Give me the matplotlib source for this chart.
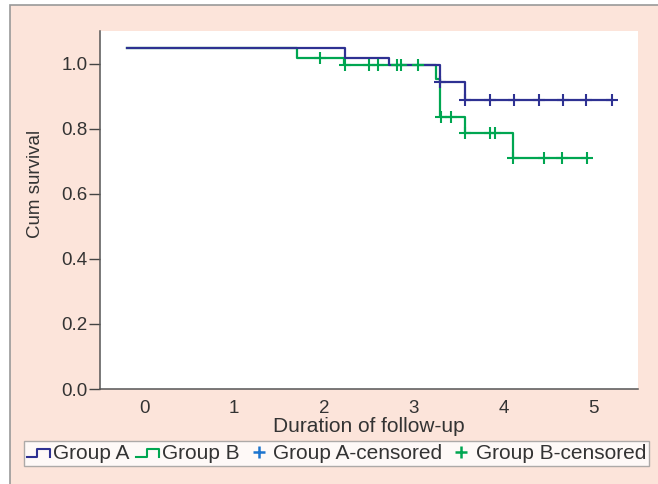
import numpy as np
import matplotlib
matplotlib.use('Agg')
import matplotlib.pyplot as plt
from matplotlib.lines import Line2D
from matplotlib.patches import Rectangle
from matplotlib.legend_handler import HandlerBase

plt.rcParams['font.family'] = ['Liberation Sans', 'DejaVu Sans']

# Kaplan-Meier steps: time at which each level starts, and the level
a_times = [-0.19, 2.23, 2.72, 3.29, 3.57]
a_surv = [1.047, 1.017, 0.996, 0.943, 0.887]
a_end = 5.20
a_cens = [3.29, 3.57, 3.84, 4.11, 4.39, 4.66, 4.91, 5.20]

b_times = [-0.19, 1.70, 2.22, 3.25, 3.29, 3.57, 4.10]
b_surv = [1.047, 1.018, 0.996, 0.953, 0.835, 0.787, 0.711]
b_end = 4.92
b_cens = [1.96, 2.23, 2.50, 2.60, 2.81, 2.86, 3.04, 3.30, 3.41,
          3.57, 3.84, 3.90, 4.10, 4.45, 4.65, 4.92]

xticks = [0, 1, 2, 3, 4, 5]
yticks = [0.0, 0.2, 0.4, 0.6, 0.8, 1.0]
legend_labels = ['Group A', 'Group B', 'Group A-censored', 'Group B-censored']

blue = '#2e3192'
green = '#00a651'
light_blue = '#1c75cf'
peach = '#fce4da'
txt = '#333333'


def level_at(times, surv, t):
    i = np.searchsorted(times, t, side='right') - 1
    return np.array(surv)[i]


class StepHandler(HandlerBase):
    def create_artists(self, legend, orig_handle, xdescent, ydescent,
                       width, height, fontsize, trans):
        xs = np.array([0.0, 0.45, 0.45, 1.0, 1.0]) * width - xdescent
        ys = np.array([0.15, 0.15, 0.7, 0.7, 0.15]) * height - ydescent
        ln = Line2D(xs, ys, color=orig_handle.get_color(), lw=1.5,
                    transform=trans)
        return [ln]


fig = plt.figure(figsize=(6.58, 4.84), dpi=100)
fig.patch.set_facecolor('white')
fig.patches.append(Rectangle((10 / 658, -0.1), 1.2, 1.1 - 5 / 484,
                             transform=fig.transFigure, facecolor=peach,
                             edgecolor='#999999', lw=1.2, zorder=-10))

ax = fig.add_axes([100 / 658, 1 - 389 / 484, 538 / 658, 358 / 484])
ax.set_facecolor('white')

ax.step(a_times + [a_end], a_surv + [a_surv[-1]], where='post',
        color=blue, lw=1.6, zorder=3)
ax.step(b_times + [b_end], b_surv + [b_surv[-1]], where='post',
        color=green, lw=1.6, zorder=2)
ax.plot(a_cens, level_at(a_times, a_surv, a_cens), ls='none', marker='+',
        ms=8, mew=1.5, color=blue, zorder=4)
ax.plot(b_cens, level_at(b_times, b_surv, b_cens), ls='none', marker='+',
        ms=8, mew=1.5, color=green, zorder=4)

ax.set_xlim(-0.49, 5.49)
ax.set_ylim(0, 1.1)
ax.set_xticks(xticks)
ax.set_yticks(yticks)
ax.set_yticklabels(['%.1f' % v for v in yticks])
ax.tick_params(axis='x', length=0, pad=8, labelsize=13.5, colors=txt)
ax.tick_params(axis='y', length=8, width=1, pad=1, labelsize=13.5,
               colors=txt, color='#444444')
for s in ['top', 'right']:
    ax.spines[s].set_visible(False)
for s in ['left', 'bottom']:
    ax.spines[s].set_color('#555555')
    ax.spines[s].set_linewidth(1.1)

ax.set_xlabel('Duration of follow-up', fontsize=15, color=txt, labelpad=0)
fig.text(36 / 658, 1 - 184 / 484, 'Cum survival', rotation=90, ha='center',
         va='center', fontsize=13.5, color=txt)

handles = [Line2D([], [], color=blue), Line2D([], [], color=green),
           Line2D([], [], ls='none', marker='+', ms=9, mew=1.8, color=light_blue),
           Line2D([], [], ls='none', marker='+', ms=9, mew=1.8, color=green)]
leg = fig.legend(handles, legend_labels, loc='center',
                 bbox_to_anchor=(336.5 / 658, 1 - 453.5 / 484), ncol=4,
                 fontsize=15, frameon=True, fancybox=False,
                 handlelength=1.1, handletextpad=0.15, columnspacing=0.35,
                 borderpad=0.15, borderaxespad=0,
                 handler_map={handles[0]: StepHandler(),
                              handles[1]: StepHandler()})
leg.get_frame().set_edgecolor('#999999')
leg.get_frame().set_linewidth(1.0)
for t in leg.get_texts():
    t.set_color(txt)

fig.savefig('out.png', dpi=100)
plt.close(fig)
